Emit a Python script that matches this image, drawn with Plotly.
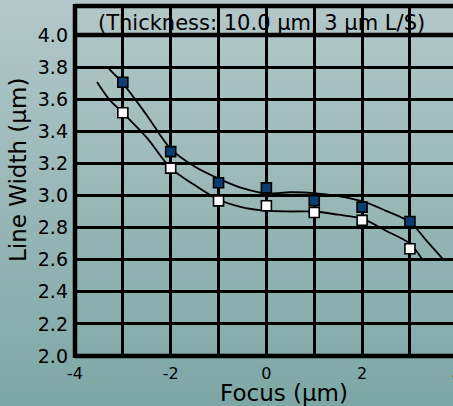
import plotly.graph_objects as go

# ---- data ----
focus = [-3, -2, -1, 0, 1, 2, 3]
width_filled = [3.705, 3.273, 3.079, 3.047, 2.968, 2.927, 2.838]
width_open = [3.515, 3.17, 2.966, 2.936, 2.894, 2.845, 2.668]

# fitted curves as drawn in the picture
curve_filled_x = [-3.29, -3.0, -2.5, -2.0, -1.5, -1.0, -0.5, 0.0, 0.5, 1.0, 1.5, 2.0, 2.5, 3.0, 3.35, 3.70]
curve_filled_y = [3.789, 3.698, 3.50, 3.29, 3.18, 3.105, 3.045, 3.012, 3.02, 3.015, 2.996, 2.964, 2.904, 2.834, 2.717, 2.60]
curve_open_x = [-3.54, -3.29, -3.0, -2.5, -2.0, -1.5, -1.0, -0.5, 0.0, 0.5, 1.0, 1.5, 2.0, 2.5, 3.0, 3.26]
curve_open_y = [3.706, 3.60, 3.515, 3.36, 3.17, 3.065, 2.975, 2.926, 2.905, 2.90, 2.90, 2.88, 2.855, 2.78, 2.70, 2.60]

x_tickvals = [-4, -3, -2, -1, 0, 1, 2, 3]
x_ticktext = ["-4", "", "-2", "", "0", "", "2", ""]
y_tickvals = [2.0, 2.2, 2.4, 2.6, 2.8, 3.0, 3.2, 3.4, 3.6, 3.8, 4.0]
y_ticktext = ["2.0", "2.2", "2.4", "2.6", "2.8", "3.0", "3.2", "3.4", "3.6", "3.8", "4.0"]

title_text = "(Thickness: 10.0 µm, 3 µm L/S)"
x_title = "Focus (µm)"
y_title = "Line Width (µm)"

FONT = "DejaVu Sans"
W, H = 453, 406
ML, MR, MT, MB = 75, 0, 6, 50
PW, PH = W - ML - MR, H - MT - MB

def px_to_paper_x(px):
    return (px - ML) / PW

def px_to_paper_y(py):
    return (H - MB - py) / PH

fig = go.Figure()

for cx, cy in ((curve_filled_x, curve_filled_y), (curve_open_x, curve_open_y)):
    fig.add_trace(go.Scatter(x=cx, y=cy, mode="lines",
                             line=dict(color="black", width=1.8, shape="spline", smoothing=0.9),
                             hoverinfo="skip", showlegend=False))
fig.add_trace(go.Scatter(x=focus, y=width_filled, mode="markers",
                         marker=dict(symbol="square", size=10, color="#0b3c72",
                                     line=dict(color="black", width=1.6)),
                         showlegend=False))
fig.add_trace(go.Scatter(x=focus, y=width_open, mode="markers",
                         marker=dict(symbol="square", size=10, color="white",
                                     line=dict(color="black", width=1.6)),
                         showlegend=False))

shapes = []
# vertical background gradient
top_c = (180, 199, 200)
bot_c = (125, 167, 166)
n = 58
step = H / n
for i in range(n):
    t = (i + 0.5) / n
    c = tuple(int(round(top_c[k] + (bot_c[k] - top_c[k]) * t)) for k in range(3))
    y0 = i * step
    y1 = (i + 1) * step + 0.6
    shapes.append(dict(type="rect", xref="paper", yref="paper",
                       x0=px_to_paper_x(-2), x1=px_to_paper_x(W + 2),
                       y0=px_to_paper_y(y1), y1=px_to_paper_y(y0),
                       fillcolor="rgb(%d,%d,%d)" % c, line=dict(width=0), layer="below"))
# frame lines
shapes.append(dict(type="line", xref="paper", yref="paper", x0=0, x1=0, y0=-0.006, y1=1.006,
                   line=dict(color="black", width=4.5)))
shapes.append(dict(type="line", xref="paper", yref="paper", x0=0, x1=1, y0=0, y1=0,
                   line=dict(color="black", width=4.5)))
shapes.append(dict(type="line", xref="paper", yref="paper", x0=0, x1=1, y0=1, y1=1,
                   line=dict(color="black", width=4.5)))
shapes.append(dict(type="line", xref="paper", yref="y", x0=0, x1=1, y0=4.0, y1=4.0,
                   line=dict(color="black", width=4.5)))

annotations = [
    dict(text=title_text, xref="paper", yref="paper", x=px_to_paper_x(261.5), y=px_to_paper_y(23),
         xanchor="center", yanchor="middle", showarrow=False,
         font=dict(family=FONT, size=21, color="black")),
    dict(text=x_title, xref="paper", yref="paper", x=px_to_paper_x(283.5), y=px_to_paper_y(393),
         xanchor="center", yanchor="middle", showarrow=False,
         font=dict(family=FONT, size=23, color="black")),
    dict(text=y_title, xref="paper", yref="paper", x=px_to_paper_x(18), y=px_to_paper_y(170),
         xanchor="center", yanchor="middle", showarrow=False, textangle=-90,
         font=dict(family=FONT, size=23, color="black")),
    dict(text="4", xref="paper", yref="paper", x=px_to_paper_x(457), y=px_to_paper_y(374),
         xanchor="center", yanchor="middle", showarrow=False,
         font=dict(family=FONT, size=16, color="black")),
]

fig.update_layout(
    width=W, height=H, autosize=False,
    margin=dict(l=ML, r=MR, t=MT, b=MB, pad=0),
    paper_bgcolor="rgb(152,183,183)",
    plot_bgcolor="rgba(0,0,0,0)",
    shapes=shapes,
    annotations=annotations,
    xaxis=dict(range=[-4, 3.9], tickvals=x_tickvals, ticktext=x_ticktext,
               showgrid=True, gridcolor="black", gridwidth=2.5, zeroline=False,
               showline=False, ticks="", ticklabelstandoff=6,
               tickfont=dict(family=FONT, size=16, color="black"), fixedrange=True),
    yaxis=dict(range=[2.0, 4.18], tickvals=y_tickvals, ticktext=y_ticktext,
               showgrid=True, gridcolor="black", gridwidth=2.5, zeroline=False,
               showline=False, ticks="", ticklabelstandoff=6,
               tickfont=dict(family=FONT, size=19, color="black"), fixedrange=True),
)

fig.write_html("out.html", config={"displayModeBar": False})
